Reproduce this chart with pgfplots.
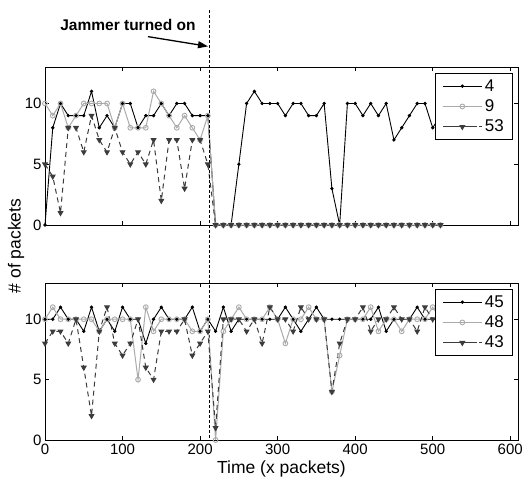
\documentclass[border=0pt]{standalone}
\usepackage{fontspec}
\setmainfont{Liberation Sans}
\usepackage{pgfplots}
\pgfplotsset{compat=1.18}
\usetikzlibrary{arrows.meta}
\definecolor{cgray}{RGB}{170,170,170}
\definecolor{cdark}{RGB}{60,60,60}

\pgfplotstableread{
x a b c
0 0 10 5
10 8 9 4
20 10 10 1
30 9 8 8
40 9 9 8
50 9 10 6
60 11 10 9
70 8 10 7
80 9 10 6
90 8 8 8
100 10 10 6
110 10 8 5
120 8 8 6
130 9 8 5
140 9 11 7
150 10 10 2
160 9 9 7
170 10 8 7
180 10 9 3
190 9 8 7
200 9 7 7
210 9 9 5
220 0 0 0
230 0 0 0
240 0 0 0
250 5 0 0
260 10 0 0
270 11 0 0
280 10 0 0
290 10 0 0
300 10 0 0
310 9 0 0
320 10 0 0
330 10 0 0
340 9 0 0
350 9 0 0
360 10 0 0
370 3 0 0
380 0 0 0
390 10 0 0
400 10 0 0
410 9 0 0
420 10 0 0
430 9 0 0
440 10 0 0
450 7 0 0
460 8 0 0
470 9 0 0
480 10 0 0
490 10 0 0
500 8 0 0
510 9 0 0
}\toptable

\pgfplotstableread{
x a b c
0 10 10 8
10 10 11 9
20 11 10 9
30 10 10 8
40 10 10 10
50 9 10 6
60 11 10 2
70 9 9 9
80 10 10 11
90 9 10 8
100 11 10 7
110 10 10 8
120 10 5 10
130 8 11 6
140 10 9 5
150 11 10 9
160 10 10 9
170 10 10 9
180 10 10 10
190 11 9 7
200 9 9 8
210 10 10 9
220 9 0 1
230 11 9 10
240 9 10 10
250 10 11 10
260 10 10 9
270 10 10 10
280 10 10 8
290 10 11 11
300 10 10 10
310 11 8 10
320 10 10 9
330 9 10 11
340 10 11 10
350 11 10 10
360 10 10 10
370 10 4 4
380 10 7 8
390 10 10 10
400 10 10 10
410 10 10 11
420 10 11 9
430 11 9 10
440 9 10 10
450 10 10 11
460 10 9 10
470 10 10 10
480 11 10 9
490 10 10 11
500 10 11 10
510 10 10 10
}\bottable

\pgfplotsset{
  mystyle/.style={
    scale only axis, width=473pt,
    xmin=0, xmax=610, ymin=0, ymax=13,
    xtick={0,100,...,600}, ytick={0,5,10},
    tick align=inside, major tick length=4pt,
    axis line style={line width=0.8pt},
    every tick/.style={black, line width=0.6pt},
    tick label style={font=\fontsize{15}{18}\selectfont},
    label style={font=\fontsize{17.5}{20}\selectfont},
    /pgf/number format/assume math mode=true,
    clip=false,
    legend style={at={(rel axis cs:0.989,0.962)}, anchor=north east,
      draw=black, line width=1.1pt, fill=white,
      font=\fontsize{17}{20}\selectfont, inner xsep=6.5pt, inner ysep=4pt, row sep=3pt,
      cells={anchor=west}},
    legend image code/.code={
      \path (-4.5pt,0pt) -- (35pt,0pt);
      \draw[mark repeat=2,mark phase=2,##1] plot coordinates {(0pt,0pt) (15pt,0pt) (30pt,0pt)};
    },
  },
  sa/.style={black, line width=0.9pt, mark=*, mark size=1.2pt},
  sb/.style={cgray, line width=1pt, mark=o, mark size=2.4pt, mark options={solid, line width=0.9pt, fill=cgray!40}},
  sc/.style={cdark, line width=1pt, dash pattern=on 5pt off 4pt, mark=triangle*, mark size=2.6pt, mark options={solid, rotate=180, fill=cdark}},
}

\begin{document}
\begin{tikzpicture}
\useasboundingbox (0pt,0pt) rectangle (527pt,-485pt);
\begin{axis}[mystyle, height=158pt, at={(45pt,-225pt)}, anchor=south west, xticklabels={}]
\addplot[sa] table[x=x,y=a] {\toptable};
\addplot[sb] table[x=x,y=b] {\toptable};
\addplot[sc] table[x=x,y=c] {\toptable};
\legend{4,9,53}
\draw[black, line width=0.6pt, dash pattern=on 3pt off 2pt] (axis cs:212,17.7) -- (axis cs:212,-17.7);
\draw[black, line width=1.3pt, -{Triangle[length=10pt,width=7pt]}] (axis cs:132.8,15.5) -- (axis cs:210.2,14.7);
\node[font=\bfseries\fontsize{15.5}{18}\selectfont] at (axis cs:107,16.5) {Jammer turned on};
\end{axis}
\begin{axis}[mystyle, height=157pt, at={(45pt,-440pt)}, anchor=south west, xlabel={Time (x packets)}]
\addplot[sa] table[x=x,y=a] {\bottable};
\addplot[sb] table[x=x,y=b] {\bottable};
\addplot[sc] table[x=x,y=c] {\bottable};
\legend{45,48,43}
\end{axis}
\node[rotate=90, font=\fontsize{17.5}{20}\selectfont] at (16pt,-246pt) {\# of packets};
\end{tikzpicture}
\end{document}
